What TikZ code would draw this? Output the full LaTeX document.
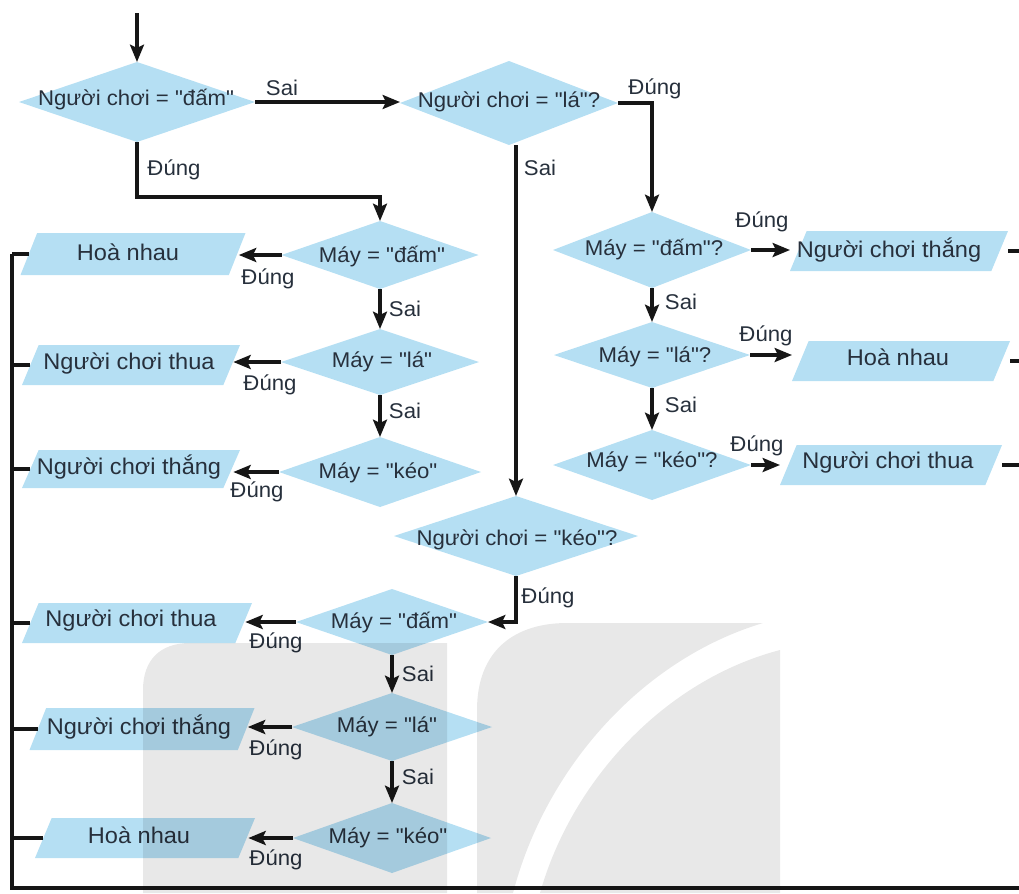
\documentclass[tikz,border=0pt]{standalone}
\usepackage{fontspec}
\setmainfont{Liberation Sans}[FakeStretch=1.04, Ligatures=TeXOff]
\usetikzlibrary{shapes.geometric,arrows.meta}
\definecolor{boxblue}{HTML}{B5DFF3}
\definecolor{ink}{HTML}{161616}
\definecolor{txt}{HTML}{27303C}
\definecolor{wmgray}{HTML}{E8E8E8}
\begin{document}
\begin{tikzpicture}[x=0.75pt,y=-0.75pt,
  font=\fontsize{16pt}{19pt}\selectfont,
  tx/.style={text=txt, inner sep=0pt, outer sep=0pt},
  rt/.style={tx, font=\fontsize{17pt}{20pt}\selectfont},
  dia/.style 2 args={shape=diamond, fill=boxblue, inner sep=0pt, outer sep=0pt,
    minimum width={#1*0.75pt}, minimum height={#2*0.75pt}},
  pbox/.style 2 args={rectangle, inner sep=0pt, outer sep=0pt,
    minimum width={#1*0.75pt}, minimum height={#2*0.75pt},
    path picture={\fill[boxblue] (path picture bounding box.south west)
      -- ([xshift=-12.5pt]path picture bounding box.south east)
      -- (path picture bounding box.north east)
      -- ([xshift=12.5pt]path picture bounding box.north west) -- cycle;}},
  ln/.style={draw=ink, line width=2.5pt},
  arr/.style={ln, -{Stealth[length=13pt,width=10.5pt,inset=2.5pt]}}]
\useasboundingbox (0,0) rectangle (1019,893);

% corners of the collecting line
\coordinate (bl) at (12,888);
\coordinate (br) at (1019,888);
\coordinate (start) at (137,13);
\coordinate (c1) at (380,197);

% ---- decisions on the player's choice
\node[dia={236}{80}] (d1) at (137,102) {};
\node[tx] (d1t) at (136,100) {Người chơi = "đấm"};
\node[dia={218}{84}] (d2) at (509,103) {};
\node[tx] (d2t) at (509,102) {Người chơi = "lá"?};
\node[dia={244}{80}] (d3) at (516,536) {};
\node[tx] (d3t) at (517,540) {Người chơi = "kéo"?};

% ---- machine checks, right column
\node[dia={198}{76}] (ra) at (652,250) {};
\node[tx] (rat) at (654,250) {Máy = "đấm"?};
\node[dia={196}{66}] (rb) at (652,355) {};
\node[tx] (rbt) at (655,357) {Máy = "lá"?};
\node[dia={198}{70}] (rc) at (652,465) {};
\node[tx] (rct) at (652,462) {Máy = "kéo"?};

% ---- machine checks, left upper column
\node[dia={197}{68}] (l1) at (380,255) {};
\node[tx] (l1t) at (382,257) {Máy = "đấm"};
\node[dia={198}{66}] (l2) at (380,362) {};
\node[tx] (l2t) at (382,362) {Máy = "lá"};
\node[dia={202}{70}] (l3) at (380,472) {};
\node[tx] (l3t) at (378,473) {Máy = "kéo"};

% ---- machine checks, left lower column
\node[dia={192}{66}] (l4) at (392,622) {};
\node[tx] (l4t) at (394,623) {Máy = "đấm"};
\node[dia={200}{68}] (l5) at (392,727) {};
\node[tx] (l5t) at (387,727) {Máy = "lá"};
\node[dia={198}{70}] (l6) at (392,838) {};
\node[tx] (l6t) at (388,838) {Máy = "kéo"};

% ---- results
\node[pbox={225}{42}] (lb1) at (133,254) {};
\node[rt] (lb1t) at (128,252) {Hoà nhau};
\node[pbox={218}{40}] (lb2) at (131,365) {};
\node[rt] (lb2t) at (129,363) {Người chơi thua};
\node[pbox={218}{38}] (lb3) at (131,469) {};
\node[rt] (lb3t) at (129,467) {Người chơi thắng};
\node[pbox={230}{40}] (lb4) at (137,623) {};
\node[rt] (lb4t) at (131,620) {Người chơi thua};
\node[pbox={225}{42}] (lb5) at (142,729) {};
\node[rt] (lb5t) at (139,727) {Người chơi thắng};
\node[pbox={220}{40}] (lb6) at (145,838) {};
\node[rt] (lb6t) at (139,835) {Hoà nhau};
\node[pbox={218}{40}] (rb1) at (899,251) {};
\node[rt] (rb1t) at (889,250) {Người chơi thắng};
\node[pbox={218}{40}] (rb2) at (901,361) {};
\node[rt] (rb2t) at (898,357) {Hoà nhau};
\node[pbox={222}{40}] (rb3) at (891,465) {};
\node[rt] (rb3t) at (888,462) {Người chơi thua};

% ---- branch labels
\node[tx] (s1) at (282,88) {Sai};
\node[tx] (s2) at (540,168) {Sai};
\node[tx] (s3) at (405,309) {Sai};
\node[tx] (s4) at (405,411) {Sai};
\node[tx] (s5) at (681,302) {Sai};
\node[tx] (s6) at (681,405) {Sai};
\node[tx] (s7) at (418,674) {Sai};
\node[tx] (s8) at (418,777) {Sai};
\node[tx] (t1) at (174,170) {Đúng};
\node[tx] (t2) at (655,89) {Đúng};
\node[tx] (t3) at (762,222) {Đúng};
\node[tx] (t4) at (766,336) {Đúng};
\node[tx] (t5) at (757,446) {Đúng};
\node[tx] (t6) at (268,279) {Đúng};
\node[tx] (t7) at (270,385) {Đúng};
\node[tx] (t8) at (257,492) {Đúng};
\node[tx] (t9) at (548,598) {Đúng};
\node[tx] (t10) at (276,643) {Đúng};
\node[tx] (t11) at (276,750) {Đúng};
\node[tx] (t12) at (276,860) {Đúng};

% ---- connectors
\draw[arr] (start) -- (d1.north);
\draw[arr] (d1.east) -- (d1.east -| d2.west);
\draw[arr] (d1.south) |- (c1) -- (l1.north);
\draw[arr] (d2.east) -| (ra.north);
\draw[arr] (d2.south -| d3.north) -- (d3.north);
\draw[arr] (d3.south) |- (l4.east);

\draw[arr] (ra.south) -- (rb.north);
\draw[arr] (rb.south) -- (rc.north);
\draw[arr] (ra.east) -- (ra.east -| rb1.west);
\draw[arr] (rb.east) -- (rb.east -| rb2.west);
\draw[arr] (rc.east) -- (rc.east -| rb3.west);
\draw[ln] (rb1.east) -- (rb1.east -| br);
\draw[ln] (rb2.east) -- (rb2.east -| br);
\draw[ln] (rb3.east) -- (rb3.east -| br);

\draw[arr] (l1.south) -- (l2.north);
\draw[arr] (l2.south) -- (l3.north);
\draw[arr] (l1.west) -- ([xshift=-5pt]l1.west -| lb1.east);
\draw[arr] (l2.west) -- ([xshift=-5pt]l2.west -| lb2.east);
\draw[arr] (l3.west) -- ([xshift=-5pt]l3.west -| lb3.east);
\draw[arr] (l4.south) -- (l5.north);
\draw[arr] (l5.south) -- (l6.north);
\draw[arr] (l4.west) -- ([xshift=-5pt]l4.west -| lb4.east);
\draw[arr] (l5.west) -- ([xshift=-5pt]l5.west -| lb5.east);
\draw[arr] (l6.west) -- ([xshift=-5pt]l6.west -| lb6.east);

% collecting line on the left and bottom
\draw[ln] (lb1.west -| bl) -- (bl) -- (br);
\foreach \b in {lb1,lb2,lb3,lb4,lb5,lb6}
  \draw[ln] ([xshift=6pt]\b.west) -- (\b.west -| bl);

% ---- faint logo behind the lower part
\begin{scope}[blend mode=multiply]
  \fill[wmgray] (143,893) -- (143,690) .. controls (143,660) and (160,643) .. (190,643)
    -- (447,643) -- (447,893) -- cycle;
  \fill[wmgray] (477,893) -- (477,710) .. controls (477,650) and (515,623) .. (567,623)
    -- (763,623) .. controls (640,660) and (545,770) .. (513,893) -- cycle;
  \fill[wmgray] (540,893) .. controls (572,780) and (665,680) .. (780,650)
    -- (780,893) -- cycle;
\end{scope}
\end{tikzpicture}
\end{document}
